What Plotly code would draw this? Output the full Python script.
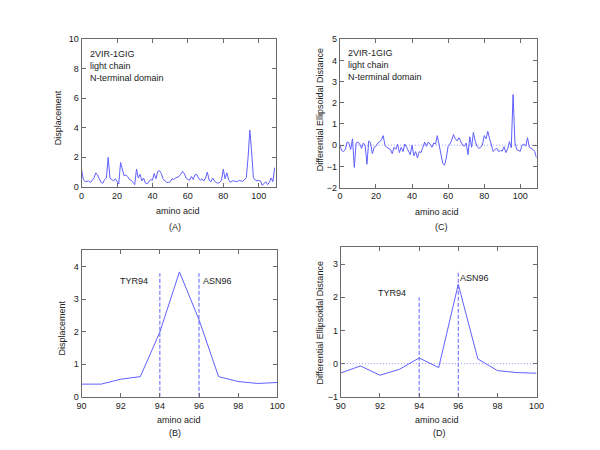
import plotly.graph_objects as go

# ---------------- data ----------------
residue = list(range(0, 110))
displacement = [
    1.15, 0.5, 0.35, 0.35, 0.4, 0.3, 0.45, 0.6, 0.95, 0.8,
    0.55, 0.3, 0.25, 0.5, 0.6, 2.0, 0.6, 0.5, 0.4, 0.55,
    0.35, 0.2, 1.65, 1.1, 0.75, 0.8, 0.7, 0.5, 0.45, 0.3,
    0.15, 1.2, 0.6, 0.85, 0.4, 0.6, 0.25, 0.2, 0.35, 0.5,
    0.45, 0.9, 0.55, 1.05, 1.1, 0.9, 0.55, 0.4, 0.3, 0.3,
    0.35, 0.55, 0.5, 0.6, 0.65, 0.7, 0.85, 1.05, 0.9, 0.6,
    0.5, 0.45, 0.7, 0.5, 0.8, 0.85, 0.6, 0.45, 0.55, 0.4,
    0.6, 1.0, 0.45, 0.35, 0.6, 0.4, 0.3, 0.25, 0.3, 0.45,
    1.2, 0.55, 0.95, 0.5, 0.3, 0.4, 0.4, 0.4, 0.35, 0.45,
    0.39, 0.39, 0.54, 0.62, 1.99, 3.84, 2.37, 0.62, 0.47, 0.41,
    0.44, 0.4, 0.1, 0.2, 0.35, 0.15, 0.3, 0.6, 0.35, 1.3,
]
ellipsoidal = [
    0.0, -0.25, -0.3, -0.2, 0.15, 0.1, -0.2, 0.3, -1.05, 0.1,
    0.15, 0.05, -0.15, 0.1, 0.0, -0.9, 0.2, 0.1, -0.4, -0.1,
    -0.05, 0.1, 0.15, 0.25, 0.45, 0.0, -0.1, -0.15, -0.2, -0.4,
    -0.1, -0.2, 0.05, -0.35, -0.1, -0.3, 0.05, -0.1, -0.25, -0.45,
    0.0, -0.5, -0.3, -0.6, -0.3, -0.35, -0.1, 0.15, -0.05, 0.15,
    0.05, -0.1, 0.1, 0.05, 0.45, -0.05, -0.5, -0.85, -0.95, -0.6,
    -0.05, 0.05, 0.25, 0.5, 0.3, 0.2, 0.35, 0.15, 0.0, -0.05,
    0.1, -0.45, 0.4, -0.1, 0.6, 0.2, -0.05, -0.15, -0.1, 0.0,
    0.45, 0.3, 0.65, 0.3, -0.05, -0.3, -0.2, -0.15, -0.3, -0.25,
    -0.28, -0.07, -0.35, -0.17, 0.17, -0.12, 2.39, 0.14, -0.21, -0.27,
    -0.29, 0.0, 0.05, -0.05, 0.35, -0.1, -0.15, -0.2, -0.3, -0.6,
]
zoom_start, zoom_end = 90, 100
marker_residues = [94, 96]
marker_labels = ["TYR94", "ASN96"]
marker_top_disp = [3.8, 3.8]
marker_top_ell = [2.0, 2.8]
info_lines = ["2VIR-1GIG", "light chain", "N-terminal domain"]

# ---------------- layout helpers ----------------
W, H = 600, 450
def px(x):
    return x / W
def py(y):
    return 1 - y / H

BLUE = "rgb(95,95,255)"
LIGHTBLUE = "rgb(150,150,255)"
AXC = "#6a6a6a"
FONT = "Liberation Sans, Arial, sans-serif"

fig = go.Figure()

panels = {
    # name: (x0, x1, ytop, ybottom) in pixels
    "A": (78.3, 276.7, 35.0, 186.0),
    "C": (342.3, 543.3, 35.0, 186.7),
    "B": (78.3, 278.3, 251.0, 400.7),
    "D": (343.3, 543.3, 248.0, 400.7),
}

def axis_common():
    return dict(showline=True, linecolor=AXC, linewidth=1, mirror="ticks",
                ticks="inside", ticklen=4, tickcolor=AXC, showgrid=False,
                zeroline=False, tickfont=dict(family=FONT, size=9, color="#222"))

layout_axes = {}
ranges = {
    "A": ([0, 109.6], [0, 10], [0, 20, 40, 60, 80, 100], [0, 2, 4, 6, 8, 10]),
    "C": ([0, 109], [-2, 5], [0, 20, 40, 60, 80, 100], list(range(-2, 6))),
    "B": ([90, 100], [0, 4.5], list(range(90, 101, 2)), [0, 1, 2, 3, 4]),
    "D": ([90, 100], [-1, 3.5], list(range(90, 101, 2)), [-1, 0, 1, 2, 3]),
}
for i, name in enumerate(["A", "C", "B", "D"]):
    x0, x1, yt, yb = panels[name]
    xr, yr, xt, yt_vals = ranges[name]
    suf = "" if i == 0 else str(i + 1)
    xa = axis_common()
    xa.update(domain=[px(x0), px(x1)], range=xr, tickvals=xt,
              anchor="y" + suf)
    ya = axis_common()
    ya.update(domain=[py(yb), py(yt)], range=yr, tickvals=yt_vals,
              anchor="x" + suf)
    layout_axes["xaxis" + suf] = xa
    layout_axes["yaxis" + suf] = ya

line = dict(color=BLUE, width=1)
dashed = dict(color=BLUE, width=1, dash="4px,2px")
dotted = dict(color=LIGHTBLUE, width=1, dash="1px,2px")

# Panel A
fig.add_trace(go.Scatter(x=residue, y=displacement, mode="lines", line=line,
                         xaxis="x", yaxis="y", showlegend=False))
# Panel C
fig.add_trace(go.Scatter(x=[residue[0], residue[-1]], y=[0, 0], mode="lines",
                         line=dotted, xaxis="x2", yaxis="y2", showlegend=False))
fig.add_trace(go.Scatter(x=residue, y=ellipsoidal, mode="lines", line=line,
                         xaxis="x2", yaxis="y2", showlegend=False))
# Panel B
sub_x = residue[zoom_start:zoom_end + 1]
fig.add_trace(go.Scatter(x=sub_x, y=displacement[zoom_start:zoom_end + 1],
                         mode="lines", line=line, xaxis="x3", yaxis="y3",
                         showlegend=False))
for r, top in zip(marker_residues, marker_top_disp):
    fig.add_trace(go.Scatter(x=[r, r], y=[0, top], mode="lines", line=dashed,
                             xaxis="x3", yaxis="y3", showlegend=False))
# Panel D
fig.add_trace(go.Scatter(x=[zoom_start, zoom_end], y=[0, 0], mode="lines",
                         line=dotted, xaxis="x4", yaxis="y4", showlegend=False))
fig.add_trace(go.Scatter(x=sub_x, y=ellipsoidal[zoom_start:zoom_end + 1],
                         mode="lines", line=line, xaxis="x4", yaxis="y4",
                         showlegend=False))
for r, top in zip(marker_residues, marker_top_ell):
    fig.add_trace(go.Scatter(x=[r, r], y=[-1, top], mode="lines", line=dashed,
                             xaxis="x4", yaxis="y4", showlegend=False))

annotations = []
def ann(text, x, y, size=9, xanchor="center", yanchor="middle", angle=0):
    annotations.append(dict(text=text, x=px(x), y=py(y), xref="paper", yref="paper",
                            showarrow=False, xanchor=xanchor, yanchor=yanchor,
                            textangle=angle, borderpad=0,
                            font=dict(family=FONT, size=size, color="#222")))

# info text in A and C
for k, t in enumerate(info_lines):
    ann(t, 86, 50 + 12.5 * k, xanchor="left")
    ann(t, 350, 49 + 12.5 * k, xanchor="left")

# axis titles
ann("amino acid", 176.5, 210.7)
ann("amino acid", 442, 211.5)
ann("amino acid", 177.7, 424)
ann("amino acid", 442, 424)
ann("(A)", 174, 226.7)
ann("(C)", 446, 226.7)
ann("(B)", 174, 438)
ann("(D)", 444, 438)
ann("Displacement", 55, 115, angle=-90)
ann("Differential Ellipsoidal Distance", 321.7, 107, angle=-90)
ann("Displacement", 58, 330, angle=-90)
ann("Differential Ellipsoidal Distance", 321.7, 325, angle=-90)

# residue labels
ann(marker_labels[0], 131.7, 282)
ann(marker_labels[1], 217.7, 282)
ann(marker_labels[0], 395.7, 294.3)
ann(marker_labels[1], 480, 279.3)

fig.update_layout(width=W, height=H, margin=dict(l=0, r=0, t=0, b=0),
                  paper_bgcolor="white", plot_bgcolor="white",
                  annotations=annotations, **layout_axes)

fig.write_html("out.html", config={"displayModeBar": False},
               post_script="document.body.style.margin='0px';document.body.style.overflow='hidden';")
